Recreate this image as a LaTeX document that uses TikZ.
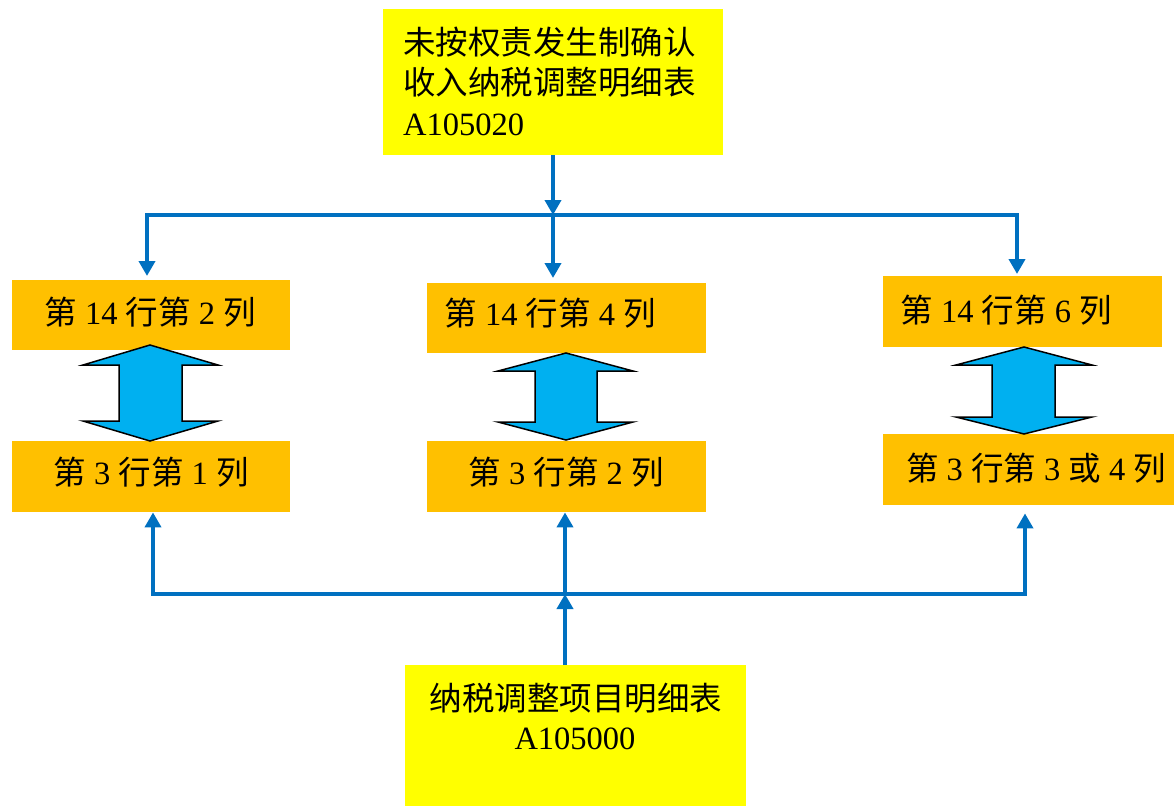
\documentclass[tikz,border=0pt]{standalone}
\usepackage{fontspec}
\setmainfont{Liberation Serif}
\newfontfamily\cjk{Noto Sans CJK SC}
\usetikzlibrary{arrows.meta}
\definecolor{myblue}{HTML}{0070C0}
\definecolor{myyellow}{HTML}{FFFF00}
\definecolor{myorange}{HTML}{FFC000}
\definecolor{mycyan}{HTML}{00B0F0}
\newcommand{\zh}[1]{{\cjk #1}}
\begin{document}
\begin{tikzpicture}[x=1pt,y=-1pt,
  line/.style={draw=myblue,line width=4pt},
  conn/.style={line,-{Triangle[width=16pt,length=15pt]}},
  boxnode/.style={anchor=north west,inner sep=0pt,draw=none},
  ybox/.style={boxnode,fill=myyellow},
  obox/.style={boxnode,fill=myorange},
  txt/.style={inner sep=0pt,font=\fontsize{32.5}{40}\selectfont},
  dbl/.style={fill=mycyan,draw=black,line width=1.5pt,line join=miter}]
\useasboundingbox (0,0) rectangle (1174,806);
% boxes
\node[ybox,minimum width=340pt,minimum height=146pt] (top) at (383,9) {};
\node[obox,minimum width=278pt,minimum height=70pt] (b14l) at (12,280) {};
\node[obox,minimum width=278pt,minimum height=71pt] (b3l) at (12,441) {};
\node[obox,minimum width=279pt,minimum height=70pt] (b14m) at (427,283) {};
\node[obox,minimum width=279pt,minimum height=71pt] (b3m) at (427,441) {};
\node[obox,minimum width=279pt,minimum height=71pt] (b14r) at (883,276) {};
\node[obox,minimum width=291pt,minimum height=71pt] (b3r) at (883,434) {};
\node[ybox,minimum width=341pt,minimum height=141pt] (bot) at (405,665) {};
% texts
\node[txt,anchor=west] (t1) at (403,42) {\zh{未按权责发生制确认}};
\node[txt,anchor=west] (t2) at (403,82) {\zh{收入纳税调整明细表}};
\node[txt,anchor=west] (t3) at (403,125) {A105020};
\node[txt] (tl1) at (150,312) {\zh{第} 14 \zh{行第} 2 \zh{列}};
\node[txt] (tl2) at (151,472) {\zh{第} 3 \zh{行第} 1 \zh{列}};
\node[txt] (tm1) at (550,313) {\zh{第} 14 \zh{行第} 4 \zh{列}};
\node[txt] (tm2) at (566,472) {\zh{第} 3 \zh{行第} 2 \zh{列}};
\node[txt] (tr1) at (1006,310) {\zh{第} 14 \zh{行第} 6 \zh{列}};
\node[txt] (tr2) at (1036,468) {\zh{第} 3 \zh{行第} 3 \zh{或} 4 \zh{列}};
\node[txt] (tb1) at (576,698) {\zh{纳税调整项目明细表}};
\node[txt] (tb2) at (575,739) {A105000};
% double arrows
\draw[dbl] (150,345) -- (218,365) -- (182,365) -- (182,421) -- (218,421) -- (150,441) -- (83,421) -- (119,421) -- (119,365) -- (83,365) -- cycle;
\draw[dbl] (566,353) -- (633,371) -- (597,371) -- (597,422) -- (633,422) -- (566,440) -- (498,422) -- (535,422) -- (535,371) -- (498,371) -- cycle;
\draw[dbl] (1024,347) -- (1092,365) -- (1055,365) -- (1055,417) -- (1092,417) -- (1024,434) -- (956,417) -- (992,417) -- (992,365) -- (956,365) -- cycle;
% top connectors
\coordinate (j1) at (553,215);
\coordinate (jl) at (147,215);
\coordinate (jr) at (1017,215);
\draw[conn] (top.south -| j1) -- (j1);
\draw[conn,shorten >=4pt] (j1) -- (jl) -- (jl |- b14l.north);
\draw[conn,shorten >=2pt] (j1) -- (jr) -- (jr |- b14r.north);
\draw[conn,shorten >=5pt] (j1) -- (j1 |- b14m.north);
% bottom connectors
\coordinate (k1) at (565,594);
\coordinate (kl) at (153,594);
\coordinate (kr) at (1025,594);
\draw[conn] (k1 |- bot.north) -- (k1);
\draw[conn] (k1) -- (kl) -- (kl |- b3l.south);
\draw[conn,shorten >=8pt] (k1) -- (kr) -- (kr |- b3r.south);
\draw[conn] (k1) -- (k1 |- b3m.south);
\end{tikzpicture}
\end{document}
